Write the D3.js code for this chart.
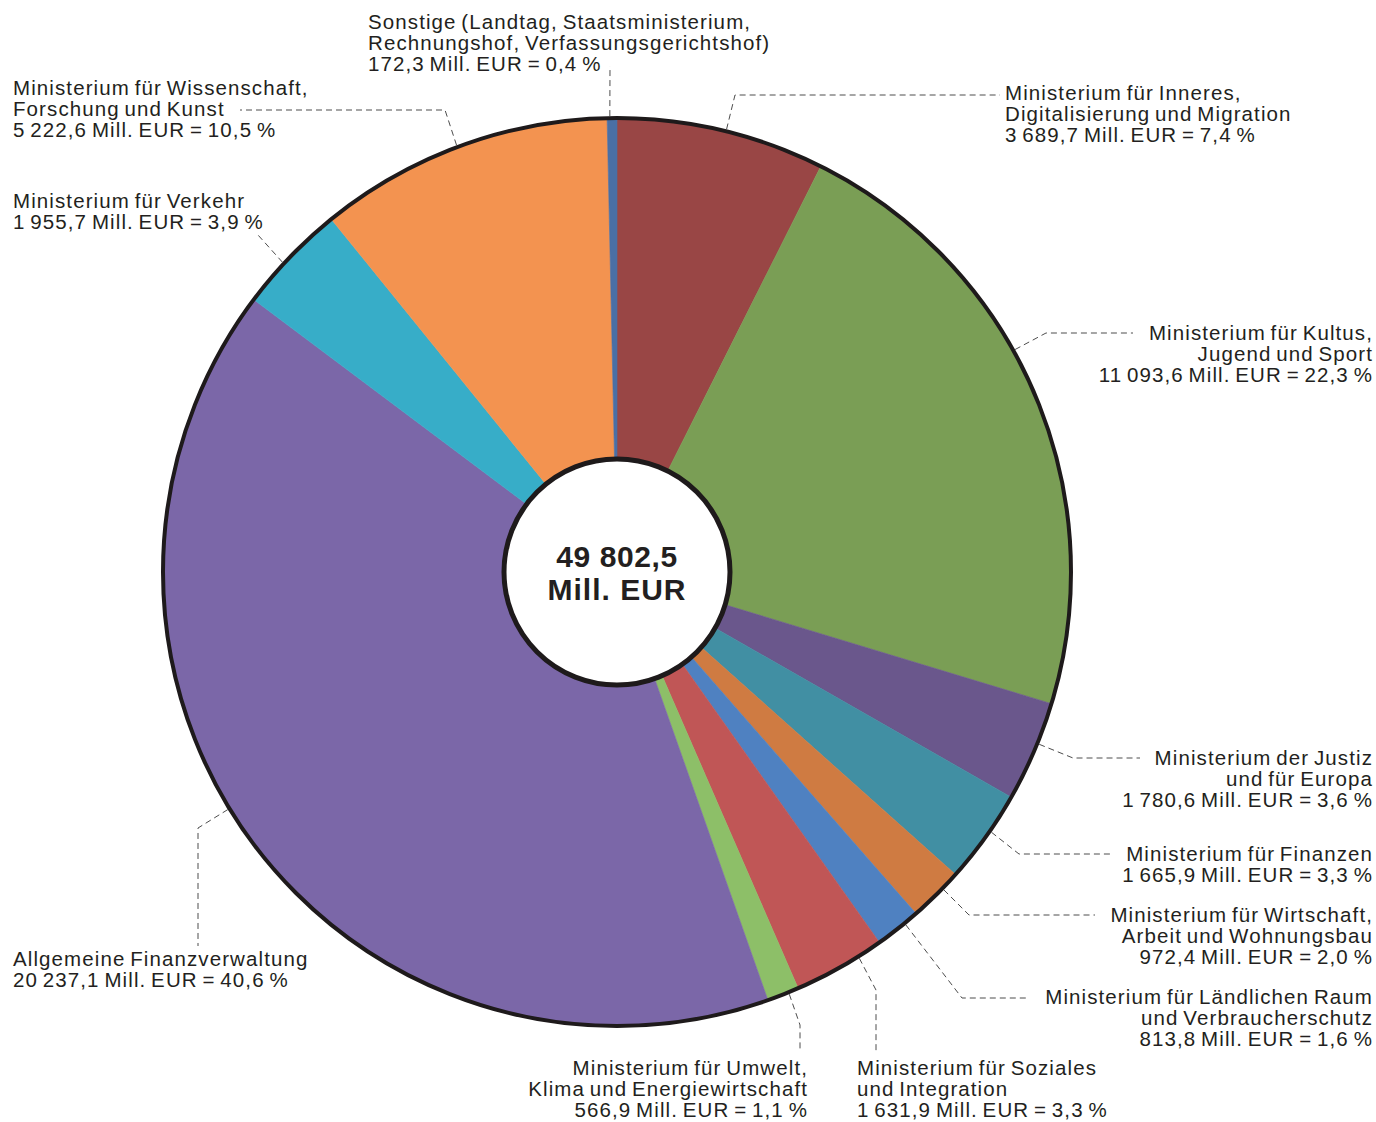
<!DOCTYPE html>
<html>
<head>
<meta charset="utf-8">
<script src="https://cdn.jsdelivr.net/npm/d3@7"></script>
<style>
  body { margin: 0; background: #fff; }
  text { font-family: "Liberation Sans", Arial, sans-serif; fill: #231f20; }
</style>
</head>
<body>
<div class="mainView"></div>
<script>
// data, clockwise from 12 o'clock
const names = [
  ["Ministerium für Inneres,", "Digitalisierung und Migration"],
  ["Ministerium für Kultus,", "Jugend und Sport"],
  ["Ministerium der Justiz", "und für Europa"],
  ["Ministerium für Finanzen"],
  ["Ministerium für Wirtschaft,", "Arbeit und Wohnungsbau"],
  ["Ministerium für Ländlichen Raum", "und Verbraucherschutz"],
  ["Ministerium für Soziales", "und Integration"],
  ["Ministerium für Umwelt,", "Klima und Energiewirtschaft"],
  ["Allgemeine Finanzverwaltung"],
  ["Ministerium für Verkehr"],
  ["Ministerium für Wissenschaft,", "Forschung und Kunst"],
  ["Sonstige (Landtag, Staatsministerium,", "Rechnungshof, Verfassungsgerichtshof)"]
];
const amounts = [3689.7, 11093.6, 1780.6, 1665.9, 972.4, 813.8, 1631.9, 566.9, 20237.1, 1955.7, 5222.6, 172.3];
const shares = [7.4, 22.3, 3.6, 3.3, 2.0, 1.6, 3.3, 1.1, 40.6, 3.9, 10.5, 0.4];
const colors = ["#994645", "#7a9e55", "#6a578c", "#418fa3", "#cf7b42", "#4f81c1",
                "#c05656", "#8dbf68", "#7b67a8", "#37adc8", "#f39350", "#4a6fa5"];
const totalLabel = ["49 802,5", "Mill. EUR"];

// label placement: text anchor + first baseline, leader = angle on rim then points
const labelLayout = [
  { anchor: "start", x: 1005, y: 100, rim: 13.9, pts: [[735, 95], [1000, 95]] },
  { anchor: "end", x: 1373, y: 340, rim: 60.8, pts: [[1046, 333], [1133, 333]] },
  { anchor: "end", x: 1373, y: 765, rim: 112.2, pts: [[1073, 758], [1140, 758]] },
  { anchor: "end", x: 1373, y: 861, rim: 124.8, pts: [[1019, 854], [1113, 854]] },
  { anchor: "end", x: 1373, y: 922, rim: 134.2, pts: [[969, 915], [1095, 915]] },
  { anchor: "end", x: 1373, y: 1004, rim: 140.7, pts: [[962, 998], [1028, 998]] },
  { anchor: "start", x: 857, y: 1075, rim: 147.9, pts: [[876, 990], [876, 1052]] },
  { anchor: "end", x: 808, y: 1075, rim: 157.8, pts: [[800, 1025], [800, 1052]] },
  { anchor: "start", x: 13, y: 966, rim: 238.6, pts: [[198, 828], [198, 946]] },
  { anchor: "start", x: 13, y: 208, rim: 312.8, pts: [[258, 235]] },
  { anchor: "start", x: 13, y: 95, rim: 339.4, pts: [[445, 110], [240, 110]] },
  { anchor: "start", x: 368, y: 29, rim: 359.1, pts: [[610, 66]] }
];

function getConfig(){
  let width = 1376, height = 1122;
  let cx = 617, cy = 572;
  let outerR = 454, innerR = 113;
  let svg = d3.select(".mainView").append("svg")
    .attr("width", width).attr("height", height);
  return { width, height, cx, cy, outerR, innerR, svg };
}

function drawPie(data, config){
  let { svg, cx, cy, outerR, innerR } = config;
  let pie = d3.pie().sort(null).value(d => d.amount);
  let arc = d3.arc().innerRadius(0).outerRadius(outerR);
  let g = svg.append("g").attr("transform", "translate(" + [cx, cy] + ")");
  g.selectAll("path.slice")
    .data(pie(data))
    .enter()
    .append("path")
    .attr("class", "slice")
    .attr("d", arc)
    .attr("fill", d => d.data.color)
    .attr("stroke", d => d.data.color)
    .attr("stroke-width", 0.6);
  g.append("circle").attr("r", outerR)
    .attr("fill", "none").attr("stroke", "#1e1a1b").attr("stroke-width", 4);
  g.append("circle").attr("r", innerR)
    .attr("fill", "#fff").attr("stroke", "#1e1a1b").attr("stroke-width", 5);
  g.selectAll("text.total")
    .data(totalLabel)
    .enter()
    .append("text")
    .attr("class", "total")
    .attr("x", 0)
    .attr("y", (d, i) => -5 + i * 33)
    .attr("text-anchor", "middle")
    .style("font-size", "30px")
    .style("font-weight", "bold")
    .style("letter-spacing", (d, i) => i ? "1px" : "0.6px")
    .text(d => d);
}

function drawLabels(data, config){
  let { svg, cx, cy, outerR } = config;
  let de = d3.formatLocale({ decimal: ",", thousands: " ", grouping: [3], currency: ["", ""] });
  let fmtAmount = de.format(",.1f");
  let fmtShare = de.format(".1f");
  let line = d3.line();

  data.forEach((d, i) => {
    let lay = labelLayout[i];
    let a = lay.rim * Math.PI / 180;
    let rimPt = [cx + (outerR + 2) * Math.sin(a), cy - (outerR + 2) * Math.cos(a)];
    svg.append("path")
      .attr("d", line([rimPt].concat(lay.pts)))
      .attr("fill", "none")
      .attr("stroke", "#4d4d4d")
      .attr("stroke-width", 1)
      .attr("stroke-dasharray", "6,4");

    let lines = d.name.concat([fmtAmount(d.amount) + " Mill. EUR = " + fmtShare(d.share) + " %"]);
    let t = svg.append("text")
      .attr("text-anchor", lay.anchor)
      .style("font-size", "20.5px")
      .style("letter-spacing", "1.1px")
      .style("word-spacing", "-2px");
    t.selectAll("tspan")
      .data(lines)
      .enter()
      .append("tspan")
      .attr("x", lay.x)
      .attr("y", (l, j) => lay.y + j * 21)
      .text(l => l);
  });
}

let data = amounts.map((v, i) => ({ name: names[i], amount: v, share: shares[i], color: colors[i] }));
let config = getConfig();
drawPie(data, config);
drawLabels(data, config);
</script>
</body>
</html>
